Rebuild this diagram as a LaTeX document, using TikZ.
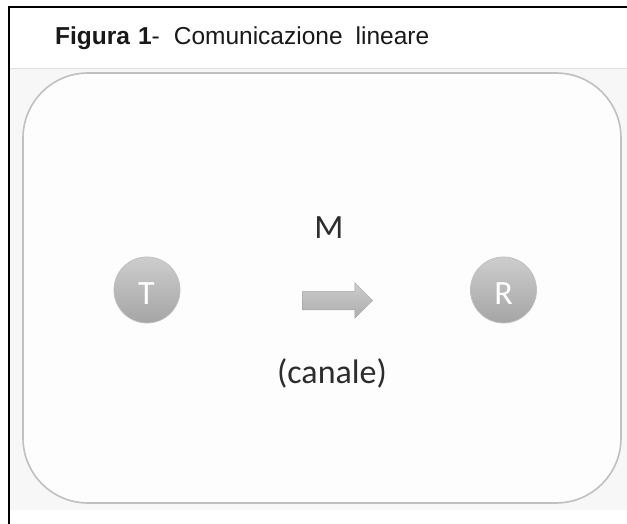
\documentclass[tikz,border=0pt]{standalone}
\usepackage{fontspec}
\setmainfont{Liberation Sans}
\newfontfamily\carlitofont{Carlito}
\usetikzlibrary{shapes.arrows}
\definecolor{boxline}{RGB}{192,192,192}
\definecolor{slidebg}{RGB}{247,247,247}
\definecolor{boxfill}{RGB}{253,253,253}
\definecolor{ballA}{RGB}{205,205,205}
\definecolor{ballB}{RGB}{165,165,165}
\definecolor{txt}{RGB}{45,45,45}
\tikzset{
  ball/.style={circle, minimum size=66pt, inner sep=0pt, top color=ballA, bottom color=ballB, draw=ballB!70!white, line width=0.8pt},
  balltext/.style={anchor=base, inner sep=0pt, text=white, font=\carlitofont\fontsize{34}{34}\selectfont},
  lbl/.style={anchor=base, inner sep=0pt, font=\carlitofont\fontsize{34}{40}\selectfont, text=txt},
}
\begin{document}
\begin{tikzpicture}[x=1pt,y=-1pt]
\useasboundingbox (0,0) rectangle (627,524);
\fill[white] (0,0) rectangle (627,524);
% slide background band
\fill[slidebg] (9,68) rectangle (627,510);
\draw[black!12, line width=1.2pt] (9,68.5) -- (627,68.5);
% outer frame (open right and bottom)
\draw[line width=1.3pt] (9,524) -- (9,7) -- (627,7);
% title
\node[anchor=base west, font=\fontsize{24.5}{26}\selectfont, inner sep=0pt, text=black!90] (title) at (55,45)
  {\textbf{Figura\hspace{8pt}1}-\hspace{14pt}Comunicazione\hspace{13pt}lineare};
% rounded box
\draw[boxline, line width=1.6pt, fill=boxfill, rounded corners=65pt] (23,73) rectangle (621,503);
% nodes
\node[ball] (T) at (147,290) {};
\node[balltext] (Tl) at (146.5,304) {T};
\node[ball] (R) at (503.5,290) {};
\node[balltext] (Rl) at (503.5,304) {R};
\node[single arrow, draw=black!35, top color=black!20, bottom color=black!32, minimum height=70pt, minimum width=35pt, inner xsep=0pt, inner ysep=9pt, single arrow head extend=8.5pt, single arrow tip angle=90, line width=0.5pt] (arr) at (333,300.5) {};
\node[lbl] (M) at (329,239) {M};
\node[lbl] (canale) at (332,383) {(canale)};
\end{tikzpicture}
\end{document}
